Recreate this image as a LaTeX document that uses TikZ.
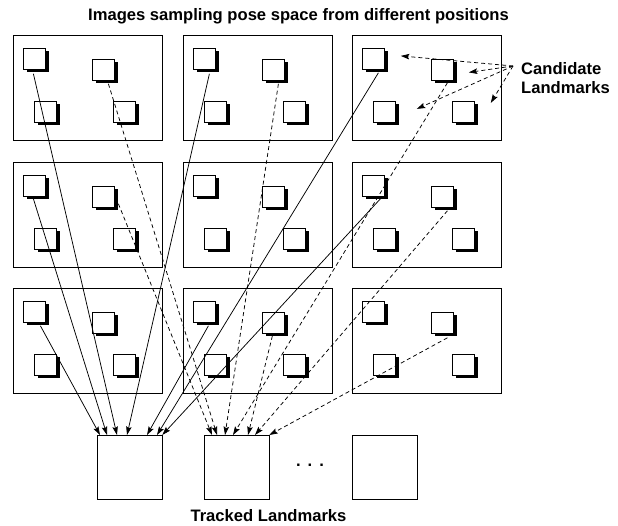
\documentclass[tikz,border=0pt]{standalone}
\usepackage{fontspec}
\setmainfont{Liberation Sans}
\usetikzlibrary{arrows.meta,shadows,calc}

\begin{document}
\begin{tikzpicture}[x=1pt,y=-1pt,
  frame/.style={draw, line width=1pt, minimum width=149pt, minimum height=105pt,
    inner sep=0pt, anchor=north west},
  lmk/.style={draw, fill=white, line width=0.8pt, minimum width=22pt, minimum height=21pt,
    inner sep=0pt, anchor=north west,
    drop shadow={shadow xshift=3.5pt, shadow yshift=-3.5pt, fill=black, opacity=1}},
  tracked/.style={draw, line width=0.8pt, minimum width=64.5pt, minimum height=64pt,
    inner sep=0pt, anchor=north west},
  link/.style={line width=0.75pt, -{Stealth[length=8.5pt,width=5.5pt,inset=1.5pt]}},
  dlink/.style={link, dash pattern=on 4pt off 3pt},
  label/.style={font=\bfseries\fontsize{16.6}{19}\selectfont, inner sep=0pt},
]
\useasboundingbox (0,0) rectangle (618,525);

% grid of images, each with four candidate landmarks
\foreach \r/\y in {1/35,2/162,3/288} {
  \foreach \c/\x in {1/13,2/183,3/352} {
    \node[frame] (f\r\c) at (\x,\y) {};
    \node[lmk] (tl\r\c) at (\x+10,\y+12.5) {};
    \node[lmk] (tr\r\c) at (\x+79,\y+23.5) {};
    \node[lmk] (bl\r\c) at (\x+21,\y+65.5) {};
    \node[lmk] (br\r\c) at (\x+100,\y+65.5) {};
  }
}

% tracked landmarks
\node[tracked] (t1) at (97,435) {};
\node[tracked] (t2) at (204,435) {};
\node[tracked] (t3) at (352,435) {};
\node[label, anchor=base] (dots) at (310,466) {.\hspace{7pt}.\hspace{7pt}.};

% labels
\node[label, anchor=base] (title) at (298.5,20) {Images sampling pose space from different positions};
\node[label, anchor=base] (tlabel) at (268.5,521) {Tracked Landmarks};
\node[label, anchor=north west, align=left] (cl) at (521,62) {Candidate\\Landmarks};

% matches to the first tracked landmark
\draw[link] ($(tl11.south)+(-1,4.5)$) -- ($(t1.north west)+(20,0)$);
\draw[link] ($(tl21.south)+(-1,2.5)$) -- ($(t1.north west)+(10,0)$);
\draw[link] ($(tl31.south)+(6,3.5)$)  -- ($(t1.north west)+(3,0)$);
\draw[link] ($(tl12.south)+(5,4.5)$)  -- ($(t1.north west)+(30,0)$);
\draw[link] ($(tl32.south)+(4,3.5)$)  -- ($(t1.north west)+(50,0)$);
\draw[link] ($(tl13.south)+(5,3.5)$)  -- ($(t1.north west)+(60,0)$);
\draw[link] ($(tl23.south)+(7,2.5)$)  -- (t1.north east);

% matches to the second tracked landmark
\draw[dlink] ($(tr11.south)+(5,3.5)$)  -- ($(t2.north west)+(13,0)$);
\draw[dlink] ($(tr21.south)+(15,-3.5)$) -- ($(t2.north west)+(8,0)$);
\draw[dlink] ($(tr12.south)+(5,3.5)$)  -- ($(t2.north west)+(21,0)$);
\draw[dlink] ($(tr13.south)+(5,2.5)$)  -- ($(t2.north west)+(29,0)$);
\draw[dlink] ($(tr32.south)+(-1,2.5)$) -- ($(t2.north west)+(44,0)$);
\draw[dlink] ($(tr23.south)+(5,3.5)$)  -- ($(t2.north west)+(51,0)$);
\draw[dlink] ($(tr33.south)+(5,4.5)$)  -- (t2.north east);

% pointers from the candidate label
\coordinate (cfoot) at (513,66);
\coordinate (ctl) at ($(tl13.east)+(16,-2.5)$);
\coordinate (ctr) at ($(tr13.east)+(15,3)$);
\coordinate (cbl) at ($(bl13.east)+(21,-2.5)$);
\coordinate (cbr) at ($(br13.east)+(16,-8.5)$);
\foreach \t in {ctl,ctr,cbl,cbr}
  \draw[dlink] (cfoot) -- (\t);
\end{tikzpicture}
\end{document}
